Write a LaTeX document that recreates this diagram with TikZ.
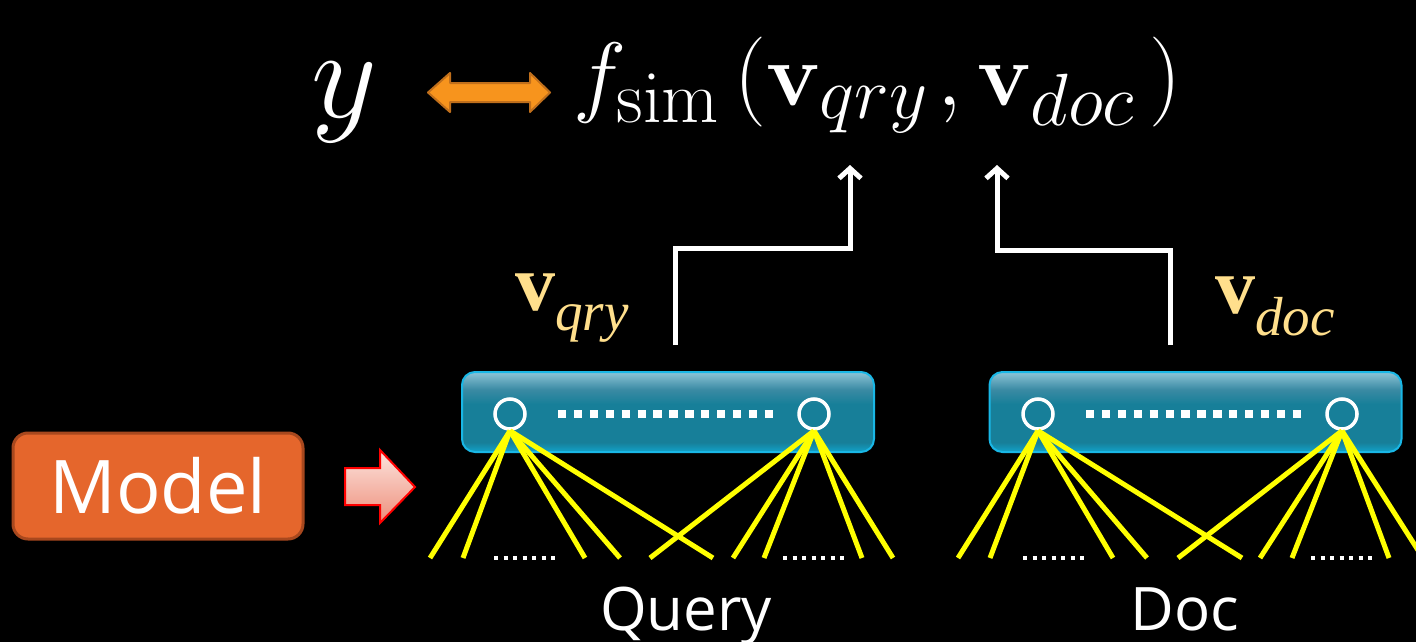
\RequirePackage{fix-cm}
\documentclass[tikz,border=0pt]{standalone}
\usepackage[no-math]{fontspec}
\setmainfont{Open Sans}
\newfontfamily\tnr{Liberation Serif}
\usetikzlibrary{arrows.meta}
\DeclareMathSizes{90}{90}{74}{58}
\definecolor{bbtop}{HTML}{8DC4D7}
\definecolor{bbmidA}{HTML}{3A8AA3}
\definecolor{bbmid}{HTML}{177F99}
\definecolor{bbbot}{HTML}{11A3CA}
\definecolor{bbedge}{HTML}{19B7E6}
\definecolor{gold}{HTML}{FFDF8C}
\definecolor{modelfill}{HTML}{E5662C}
\definecolor{modeledge}{HTML}{A8481E}
\definecolor{orfill}{HTML}{F7941D}
\definecolor{oredge}{HTML}{C06F1B}
\definecolor{pinktop}{HTML}{FCE4DE}
\definecolor{pinkbot}{HTML}{EE8F7B}
\definecolor{neonyellow}{HTML}{FFFF00}
\pgfdeclareverticalshading{bluebox}{100bp}{color(0bp)=(bbbot); color(25bp)=(bbbot); color(31bp)=(bbmid); color(55bp)=(bbmid); color(64bp)=(bbmidA); color(75bp)=(bbtop); color(100bp)=(bbtop)}
\begin{document}
\begin{tikzpicture}[x=1pt,y=-1pt,
  layerbox/.style={rectangle, rounded corners=13pt, minimum width=412pt, minimum height=80pt, shading=bluebox, draw=bbedge, line width=2pt, inner sep=0},
  neuron/.style={circle, draw=white, line width=3.5pt, minimum size=30pt, inner sep=0},
  dotrow/.style={draw=white, line width=8pt, dash pattern=on 8.3pt off 7.6pt},
  smalldots/.style={draw=white, line width=4.2pt, dash pattern=on 4.2pt off 5.3pt},
  yline/.style={draw=neonyellow, line width=5pt},
  uparrow/.style={draw=white, line width=5pt, -{Straight Barb[length=10pt,width=22pt]}},
  veclabel/.style={anchor=base west, text=gold, inner sep=0},
  caption/.style={anchor=base, text=white, inner sep=0, font=\fontsize{60}{70}\selectfont},
]
\fill[black] (0,0) rectangle (1416,642);
\useasboundingbox (0,0) rectangle (1416,642);

% top formula
\node[anchor=base, text=white, inner sep=0] (ysym) at (344,117) {\fontsize{128}{140}\selectfont$y$};
\filldraw[fill=orfill, draw=oredge, line width=2pt, line join=round]
  (428,92.5) -- (450,73) -- (450,83) -- (530,83) -- (530,73) -- (550,92.5)
  -- (530,112) -- (530,102) -- (450,102) -- (450,112) -- cycle;
\node[anchor=base west, text=white, inner sep=0] (fsim) at (573,105)
  {\fontsize{90}{115}\selectfont$f_{\mathrm{sim}}\mskip3mu\big(\mathbf{v}_{qry}\mskip2mu,\mathbf{v}_{doc}\mskip3mu\big)$};

% model box and arrow
\node[draw=modeledge, fill=modelfill, line width=3pt, rounded corners=15pt,
  minimum width=290pt, minimum height=106pt, text=white, inner sep=0,
  font=\fontsize{74}{80}\selectfont] (model) at (158,486) {Model};
\shadedraw[top color=pinktop, bottom color=pinkbot, draw=red, line width=2pt]
  (345,468) -- (380,468) -- (380,450) -- (415,487) -- (380,523) -- (380,505) -- (345,505) -- cycle;

% layer boxes
\node[layerbox] (qbox) at (668,412) {};
\node[layerbox] (dbox) at (1195.5,412) {};
\node[neuron] (q1) at (510,414) {};
\node[neuron] (q2) at (814,414) {};
\node[neuron] (d1) at (1038,414) {};
\node[neuron] (d2) at (1342,414) {};
\draw[dotrow] (558,414) -- (774,414);
\draw[dotrow] (1086,414) -- (1302,414);

% input lines
\foreach \x [count=\i] in {430,463,585,620,713} \coordinate (qa\i) at (\x,558);
\foreach \x [count=\i] in {650,733,764,862,893} \coordinate (qb\i) at (\x,558);
\foreach \x [count=\i] in {958,990,1113,1147,1242} \coordinate (da\i) at (\x,558);
\foreach \x [count=\i] in {1178,1260,1292,1389,1423} \coordinate (db\i) at (\x,558);
\foreach \i in {1,...,5} {
  \draw[yline] (q1.south) -- (qa\i);
  \draw[yline] (q2.south) -- (qb\i);
  \draw[yline] (d1.south) -- (da\i);
  \draw[yline] (d2.south) -- (db\i);
}
\draw[smalldots] (494,558) -- (556,558);
\draw[smalldots] (783,558) -- (845,558);
\draw[smalldots] (1023,558) -- (1085,558);
\draw[smalldots] (1311,558) -- (1373,558);

% captions
\node[caption] (query) at (686,630) {Query};
\node[caption] (doc) at (1185,630) {Doc};

% vector labels
\node[veclabel] (vq) at (515,310) {\tnr\fontsize{80}{90}\selectfont\textbf{v}\raisebox{-20pt}{\fontsize{55}{60}\selectfont\itshape qry}};
\node[veclabel] (vd) at (1215,313) {\tnr\fontsize{80}{90}\selectfont\textbf{v}\raisebox{-22pt}{\fontsize{55}{60}\selectfont\itshape doc}};

% up arrows
\coordinate (qout) at (675,345);
\coordinate (qin) at (850,165);
\coordinate (dout) at (1170,345);
\coordinate (din) at (997,165);
\draw[uparrow] (qout) -- ++(0,-97) -| (qin);
\draw[uparrow] (dout) -- ++(0,-95) -| (din);
\end{tikzpicture}
\end{document}
